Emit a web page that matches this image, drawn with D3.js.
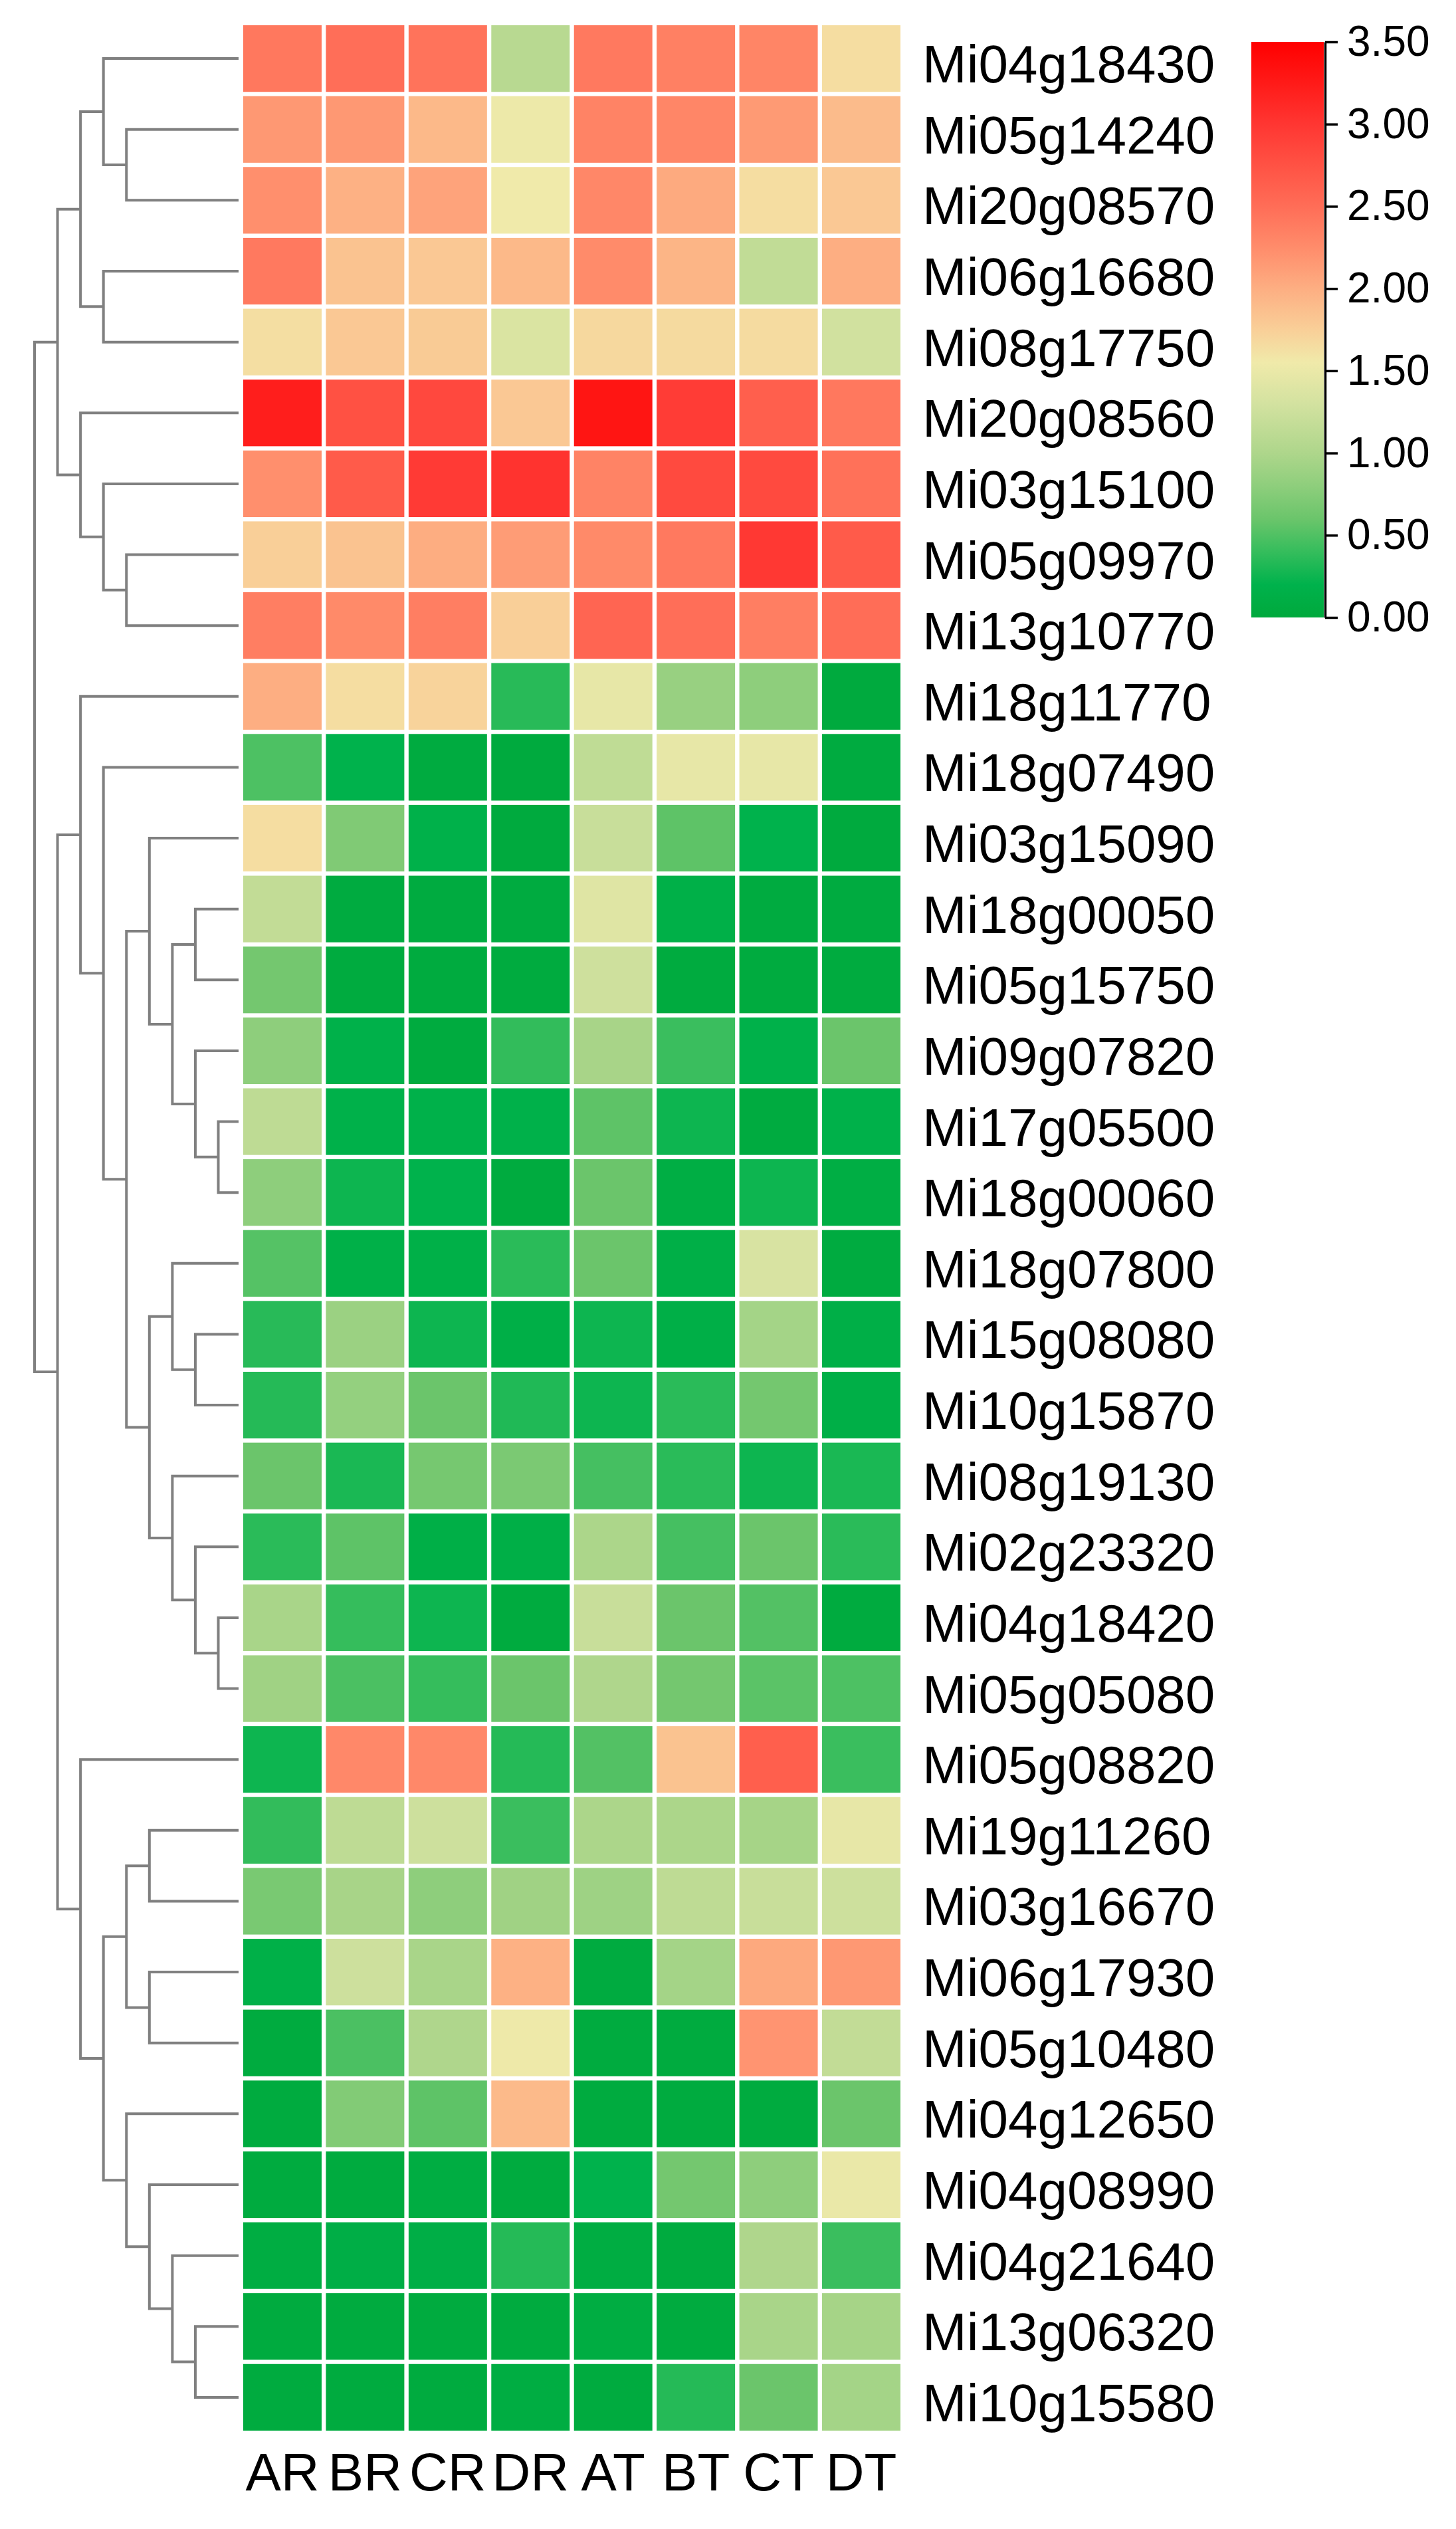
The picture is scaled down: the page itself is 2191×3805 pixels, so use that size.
<html>
<head>
<meta charset="utf-8">
<script src="https://d3js.org/d3.v7.min.js"></script>
<style>
  body { margin: 0; background: #fff; }
  text { font-family: "Liberation Sans", Arial, sans-serif; }
</style>
</head>
<body>
<div id="heat"></div>
<script>

var samples = ["AR", "BR", "CR", "DR", "AT", "BT", "CT", "DT"];

var genes = ["Mi04g18430", "Mi05g14240", "Mi20g08570", "Mi06g16680", "Mi08g17750",
  "Mi20g08560", "Mi03g15100", "Mi05g09970", "Mi13g10770", "Mi18g11770",
  "Mi18g07490", "Mi03g15090", "Mi18g00050", "Mi05g15750", "Mi09g07820",
  "Mi17g05500", "Mi18g00060", "Mi18g07800", "Mi15g08080", "Mi10g15870",
  "Mi08g19130", "Mi02g23320", "Mi04g18420", "Mi05g05080", "Mi05g08820",
  "Mi19g11260", "Mi03g16670", "Mi06g17930", "Mi05g10480", "Mi04g12650",
  "Mi04g08990", "Mi04g21640", "Mi13g06320", "Mi10g15580"];

// one row per gene, columns in the order of samples
var values = [
  [2.41, 2.49, 2.45, 1.08, 2.40, 2.35, 2.31, 1.65],
  [2.16, 2.16, 1.92, 1.52, 2.32, 2.30, 2.15, 1.90],
  [2.23, 1.98, 2.08, 1.55, 2.29, 2.03, 1.65, 1.80],
  [2.40, 1.84, 1.80, 1.92, 2.26, 1.95, 1.15, 2.00],
  [1.64, 1.80, 1.78, 1.36, 1.68, 1.67, 1.66, 1.28],
  [3.21, 2.76, 2.84, 1.80, 3.30, 2.95, 2.63, 2.41],
  [2.23, 2.67, 2.96, 3.03, 2.32, 2.82, 2.82, 2.47],
  [1.75, 1.84, 2.01, 2.13, 2.27, 2.40, 2.98, 2.67],
  [2.36, 2.27, 2.36, 1.75, 2.57, 2.49, 2.36, 2.50],
  [2.00, 1.65, 1.72, 0.35, 1.47, 0.86, 0.80, 0.02],
  [0.49, 0.20, 0.05, 0.02, 1.14, 1.47, 1.47, 0.05],
  [1.65, 0.72, 0.18, 0.02, 1.21, 0.55, 0.20, 0.02],
  [1.16, 0.05, 0.05, 0.05, 1.40, 0.15, 0.05, 0.05],
  [0.65, 0.04, 0.04, 0.04, 1.26, 0.04, 0.04, 0.04],
  [0.80, 0.17, 0.04, 0.39, 0.96, 0.42, 0.18, 0.60],
  [1.13, 0.18, 0.18, 0.18, 0.55, 0.25, 0.05, 0.18],
  [0.80, 0.25, 0.20, 0.04, 0.60, 0.10, 0.25, 0.10],
  [0.52, 0.15, 0.15, 0.36, 0.60, 0.14, 1.34, 0.05],
  [0.35, 0.88, 0.25, 0.14, 0.25, 0.14, 0.94, 0.14],
  [0.34, 0.84, 0.60, 0.32, 0.25, 0.36, 0.65, 0.14],
  [0.60, 0.30, 0.66, 0.69, 0.46, 0.36, 0.25, 0.30],
  [0.36, 0.55, 0.14, 0.14, 0.99, 0.46, 0.60, 0.36],
  [0.97, 0.40, 0.25, 0.04, 1.21, 0.60, 0.51, 0.04],
  [0.91, 0.48, 0.40, 0.60, 1.01, 0.65, 0.54, 0.49],
  [0.25, 2.28, 2.28, 0.34, 0.51, 1.84, 2.63, 0.42],
  [0.39, 1.13, 1.25, 0.42, 0.99, 0.99, 0.95, 1.47],
  [0.68, 0.96, 0.80, 0.91, 0.90, 1.13, 1.21, 1.25],
  [0.15, 1.25, 0.97, 1.98, 0.05, 0.94, 2.04, 2.16],
  [0.04, 0.48, 1.01, 1.53, 0.04, 0.04, 2.19, 1.16],
  [0.04, 0.73, 0.55, 1.91, 0.04, 0.04, 0.04, 0.60],
  [0.04, 0.04, 0.08, 0.04, 0.20, 0.65, 0.80, 1.50],
  [0.08, 0.12, 0.12, 0.34, 0.08, 0.04, 1.01, 0.42],
  [0.04, 0.04, 0.04, 0.04, 0.08, 0.04, 0.97, 0.95],
  [0.04, 0.04, 0.04, 0.08, 0.04, 0.34, 0.60, 0.94]
];

// row dendrogram: [level, left, right], leaves are row indices
var tree = [0,
  [1,
    [2, [3, 0, [4, 1, 2]], [3, 3, 4]],
    [2, 5, [3, 6, [4, 7, 8]]]],
  [1,
    [2, 9, [3, 10, [4,
      [5, 11, [6, [7, 12, 13], [7, 14, [8, 15, 16]]]],
      [5, [6, 17, [7, 18, 19]], [6, 20, [7, 21, [8, 22, 23]]]]]]],
    [2, 24, [3,
      [4, [5, 25, 26], [5, 27, 28]],
      [4, 29, [5, 30, [6, 31, [7, 32, 33]]]]]]]
];

var legendTicks = [0, 0.5, 1, 1.5, 2, 2.5, 3, 3.5];

var colorStops = [0, 0.2, 0.4, 0.6, 0.8, 1.0, 1.3, 1.55, 1.75, 2.0, 2.25, 2.5, 2.75, 3.0, 3.25, 3.5];
var colorRange = ["#00a93c", "#00b24c", "#35bd5c", "#6bc56b", "#8ece7c", "#aed68b", "#d3e2a0",
  "#f0eaaa", "#f9cf98", "#fdae82", "#ff8c6b", "#ff6d57", "#ff5244", "#ff3632", "#ff1a18", "#ff0000"];

var width = 2191, height = 3805;

var svg = d3.select("#heat")
  .append("svg")
    .attr("width", width)
    .attr("height", height);

svg.append("rect").attr("width", width).attr("height", height).attr("fill", "#fff");

var x = d3.scaleBand()
  .domain(samples)
  .range([366, 1355])
  .paddingInner(0.052);

var y = d3.scaleBand()
  .domain(genes)
  .range([38, 3657])
  .paddingInner(0.06);

var color = d3.scaleLinear()
  .domain(colorStops)
  .range(colorRange)
  .clamp(true);

var cells = [];
genes.forEach(function(g, i) {
  samples.forEach(function(s, j) {
    cells.push({gene: g, sample: s, value: values[i][j]});
  });
});

svg.selectAll("rect.cell")
  .data(cells)
  .enter()
  .append("rect")
    .attr("class", "cell")
    .attr("x", function(d) { return x(d.sample); })
    .attr("y", function(d) { return y(d.gene); })
    .attr("width", x.bandwidth())
    .attr("height", y.bandwidth())
    .attr("fill", function(d) { return color(d.value); });

// gene labels
svg.selectAll("text.gene")
  .data(genes)
  .enter()
  .append("text")
    .attr("class", "gene")
    .attr("x", 1388)
    .attr("y", function(d) { return y(d) + y.bandwidth() / 2 + 36; })
    .attr("font-size", 80)
    .attr("fill", "#000")
    .text(function(d) { return d; });

// sample labels
svg.selectAll("text.sample")
  .data(samples)
  .enter()
  .append("text")
    .attr("class", "sample")
    .attr("x", function(d) { return x(d) + x.bandwidth() / 2; })
    .attr("y", 3747)
    .attr("text-anchor", "middle")
    .attr("font-size", 80)
    .attr("fill", "#000")
    .text(function(d) { return d; });

// dendrogram
var lx = d3.scaleLinear().domain([0, 8]).range([52, 328.5]);
var leafX = 359;
var links = [];

function walk(node) {
  if (typeof node === "number") {
    return {x: leafX, y: y(genes[node]) + y.bandwidth() / 2};
  }
  var a = walk(node[1]), b = walk(node[2]);
  var nx = lx(node[0]);
  links.push("M" + a.x + "," + a.y + "H" + nx + "V" + b.y + "H" + b.x);
  return {x: nx, y: (a.y + b.y) / 2};
}
walk(tree);

svg.append("g")
  .selectAll("path")
  .data(links)
  .enter()
  .append("path")
    .attr("d", function(d) { return d; })
    .attr("fill", "none")
    .attr("stroke", "#808080")
    .attr("stroke-width", 4);

// legend
var ly = d3.scaleLinear().domain([0, 3.5]).range([929, 63]);

var grad = svg.append("defs").append("linearGradient")
  .attr("id", "legendGrad")
  .attr("x1", 0).attr("y1", 1)
  .attr("x2", 0).attr("y2", 0);

grad.selectAll("stop")
  .data(colorStops)
  .enter()
  .append("stop")
    .attr("offset", function(d) { return d / 3.5; })
    .attr("stop-color", function(d) { return color(d); });

svg.append("rect")
  .attr("x", 1883)
  .attr("y", ly(3.5))
  .attr("width", 109)
  .attr("height", ly(0) - ly(3.5))
  .attr("fill", "url(#legendGrad)");

var legendAxis = svg.append("g")
  .attr("transform", "translate(1994,0)")
  .call(d3.axisRight(ly)
    .tickValues(legendTicks)
    .tickFormat(d3.format(".2f"))
    .tickSize(19)
    .tickSizeOuter(0)
    .tickPadding(14));

legendAxis.attr("font-family", null).attr("font-size", null);
legendAxis.select(".domain").attr("stroke", "#000").attr("stroke-width", 3.5);
legendAxis.selectAll(".tick line").attr("stroke", "#000").attr("stroke-width", 3.5);
legendAxis.selectAll(".tick text")
  .attr("font-size", 64)
  .attr("fill", "#000");

</script>
</body>
</html>
